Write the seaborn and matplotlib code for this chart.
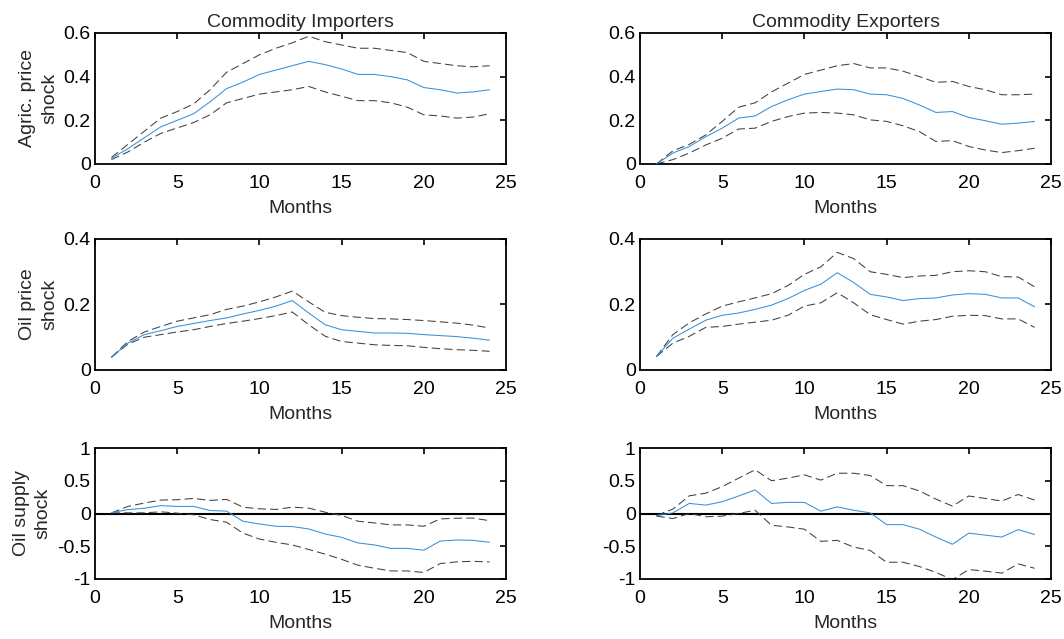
import numpy as np
import pandas as pd
import seaborn as sns
import matplotlib
matplotlib.use("Agg")
import matplotlib.pyplot as plt

months = list(range(1, 25))

# --- Agric. price shock ---
agri_imp_mid = [0.026, 0.07, 0.12, 0.17, 0.20, 0.23, 0.285, 0.345, 0.375, 0.41, 0.43, 0.45, 0.47,
                0.455, 0.435, 0.41, 0.41, 0.40, 0.385, 0.35, 0.34, 0.325, 0.33, 0.34]
agri_imp_hi = [0.03, 0.09, 0.15, 0.21, 0.24, 0.275, 0.34, 0.42, 0.46, 0.50, 0.53, 0.555, 0.585,
               0.56, 0.545, 0.53, 0.53, 0.52, 0.51, 0.47, 0.46, 0.45, 0.445, 0.45]
agri_imp_lo = [0.02, 0.055, 0.10, 0.14, 0.165, 0.19, 0.225, 0.28, 0.30, 0.32, 0.33, 0.34, 0.355,
               0.33, 0.31, 0.29, 0.29, 0.28, 0.26, 0.225, 0.22, 0.21, 0.215, 0.23]
agri_exp_mid = [0.0, 0.05, 0.08, 0.125, 0.164, 0.21, 0.22, 0.263, 0.294, 0.32, 0.332, 0.343, 0.34,
                0.32, 0.317, 0.30, 0.27, 0.236, 0.24, 0.213, 0.198, 0.182, 0.187, 0.195]
agri_exp_hi = [0.0, 0.06, 0.09, 0.133, 0.195, 0.26, 0.28, 0.33, 0.37, 0.41, 0.43, 0.45, 0.46,
               0.44, 0.44, 0.425, 0.40, 0.374, 0.378, 0.355, 0.34, 0.317, 0.317, 0.32]
agri_exp_lo = [0.0, 0.02, 0.05, 0.087, 0.118, 0.16, 0.164, 0.195, 0.217, 0.233, 0.236, 0.233, 0.225,
               0.202, 0.195, 0.175, 0.148, 0.103, 0.107, 0.08, 0.064, 0.052, 0.061, 0.072]

# --- Oil price shock ---
oilp_imp_mid = [0.039, 0.082, 0.108, 0.12, 0.133, 0.142, 0.151, 0.159, 0.171, 0.182, 0.195, 0.212,
                0.174, 0.138, 0.123, 0.118, 0.113, 0.113, 0.112, 0.108, 0.105, 0.102, 0.097, 0.091]
oilp_imp_hi = [0.039, 0.087, 0.116, 0.133, 0.149, 0.159, 0.169, 0.185, 0.195, 0.208, 0.223, 0.241,
               0.208, 0.176, 0.166, 0.161, 0.157, 0.156, 0.154, 0.151, 0.147, 0.143, 0.137, 0.128]
oilp_imp_lo = [0.039, 0.079, 0.10, 0.108, 0.116, 0.123, 0.133, 0.142, 0.149, 0.157, 0.166, 0.177,
               0.138, 0.103, 0.087, 0.082, 0.077, 0.075, 0.074, 0.069, 0.065, 0.062, 0.06, 0.057]
oilp_exp_mid = [0.041, 0.097, 0.125, 0.152, 0.167, 0.174, 0.185, 0.198, 0.218, 0.243, 0.262, 0.297,
                0.267, 0.231, 0.223, 0.212, 0.218, 0.22, 0.229, 0.233, 0.231, 0.22, 0.22, 0.193]
oilp_exp_hi = [0.041, 0.108, 0.144, 0.171, 0.195, 0.208, 0.22, 0.233, 0.258, 0.292, 0.315, 0.359,
               0.34, 0.30, 0.292, 0.282, 0.287, 0.289, 0.30, 0.303, 0.30, 0.285, 0.284, 0.254]
oilp_exp_lo = [0.041, 0.082, 0.103, 0.13, 0.133, 0.14, 0.146, 0.152, 0.167, 0.195, 0.205, 0.236,
               0.205, 0.169, 0.154, 0.14, 0.149, 0.154, 0.164, 0.167, 0.166, 0.156, 0.156, 0.13]

# --- Oil supply shock ---
oils_imp_mid = [0.01, 0.06, 0.08, 0.12, 0.108, 0.108, 0.046, 0.036, -0.118, -0.16, -0.195, -0.20,
                -0.236, -0.313, -0.364, -0.45, -0.48, -0.533, -0.533, -0.56, -0.42, -0.405, -0.41, -0.44]
oils_imp_hi = [0.01, 0.108, 0.16, 0.205, 0.21, 0.23, 0.20, 0.215, 0.097, 0.072, 0.062, 0.097,
               0.082, 0.02, -0.03, -0.118, -0.144, -0.174, -0.174, -0.195, -0.082, -0.072, -0.07, -0.11]
oils_imp_lo = [0.01, 0.01, 0.01, 0.026, 0.005, -0.02, -0.092, -0.133, -0.30, -0.39, -0.44, -0.48,
               -0.55, -0.62, -0.70, -0.79, -0.836, -0.877, -0.877, -0.90, -0.764, -0.738, -0.73, -0.74]
oils_exp_mid = [-0.036, 0.01, 0.154, 0.128, 0.18, 0.267, 0.36, 0.154, 0.17, 0.17, 0.036, 0.10,
                0.05, 0.01, -0.17, -0.17, -0.24, -0.36, -0.47, -0.30, -0.33, -0.36, -0.246, -0.32]
oils_exp_hi = [-0.03, 0.067, 0.27, 0.31, 0.41, 0.54, 0.667, 0.50, 0.54, 0.59, 0.51, 0.615,
               0.615, 0.58, 0.425, 0.425, 0.344, 0.22, 0.113, 0.267, 0.23, 0.19, 0.29, 0.205]
oils_exp_lo = [-0.04, -0.077, 0.0, -0.05, -0.04, 0.0, 0.05, -0.18, -0.205, -0.24, -0.425, -0.41,
               -0.513, -0.564, -0.744, -0.744, -0.81, -0.90, -1.01, -0.856, -0.88, -0.91, -0.77, -0.836]

col_titles = ["Commodity Importers", "Commodity Exporters"]
row_labels = ["Agric. price\nshock", "Oil price\nshock", "Oil supply\nshock"]
ylims = [(0, 0.6), (0, 0.4), (-1, 1)]
yticks = [[0, 0.2, 0.4, 0.6], [0, 0.2, 0.4], [-1, -0.5, 0, 0.5, 1]]
ytick_labels = [["0", "0.2", "0.4", "0.6"], ["0", "0.2", "0.4"], ["-1", "-0.5", "0", "0.5", "1"]]

panels = [
    [(agri_imp_mid, agri_imp_hi, agri_imp_lo), (agri_exp_mid, agri_exp_hi, agri_exp_lo)],
    [(oilp_imp_mid, oilp_imp_hi, oilp_imp_lo), (oilp_exp_mid, oilp_exp_hi, oilp_exp_lo)],
    [(oils_imp_mid, oils_imp_hi, oils_imp_lo), (oils_exp_mid, oils_exp_hi, oils_exp_lo)],
]

sns.set_style("white")
plt.rcParams["font.family"] = ["Liberation Sans", "DejaVu Sans"]
plt.rcParams["font.size"] = 14

fig = plt.figure(figsize=(10.64, 6.39), dpi=100)

lefts = [0.0893, 0.6015]
bottoms = [0.7434, 0.4210, 0.0939]
w, h = 0.3863, 0.205

blue = "#3a8fd8"
grey = "#404040"

for r in range(3):
    for c in range(2):
        ax = fig.add_axes([lefts[c], bottoms[r], w, h])
        mid, hi, lo = panels[r][c]
        df = pd.DataFrame({"Months": months, "mid": mid, "hi": hi, "lo": lo})
        if r == 2:
            ax.axhline(0, color="black", lw=1.5, zorder=1)
        sns.lineplot(data=df, x="Months", y="hi", ax=ax, color=grey, lw=0.75,
                     zorder=2).lines[-1].set_dashes((8, 4))
        sns.lineplot(data=df, x="Months", y="lo", ax=ax, color=grey, lw=0.75,
                     zorder=2).lines[-1].set_dashes((8, 4))
        sns.lineplot(data=df, x="Months", y="mid", ax=ax, color=blue, lw=0.75, zorder=3)
        ax.set_xlim(0, 25)
        ax.set_ylim(*ylims[r])
        ax.set_xticks([0, 5, 10, 15, 20, 25])
        ax.set_xticklabels(["0", "5", "10", "15", "20", "25"])
        ax.set_yticks(yticks[r])
        ax.set_yticklabels(ytick_labels[r])
        ax.tick_params(direction="in", top=True, right=True, length=4, width=1.2,
                       labelsize=14, colors="black", pad=3)
        ax.tick_params(axis="x", pad=8)
        for sp in ax.spines.values():
            sp.set_visible(True)
            sp.set_color("black")
            sp.set_linewidth(1.3)
        ax.set_xlabel("Months", fontsize=14, labelpad=6)
        if c == 0:
            ax.set_ylabel(row_labels[r], fontsize=14, labelpad=4, linespacing=1.35)
        else:
            ax.set_ylabel("")
        if r == 0:
            ax.set_title(col_titles[c], fontsize=14, pad=4)

fig.savefig("out.png", dpi=100)
